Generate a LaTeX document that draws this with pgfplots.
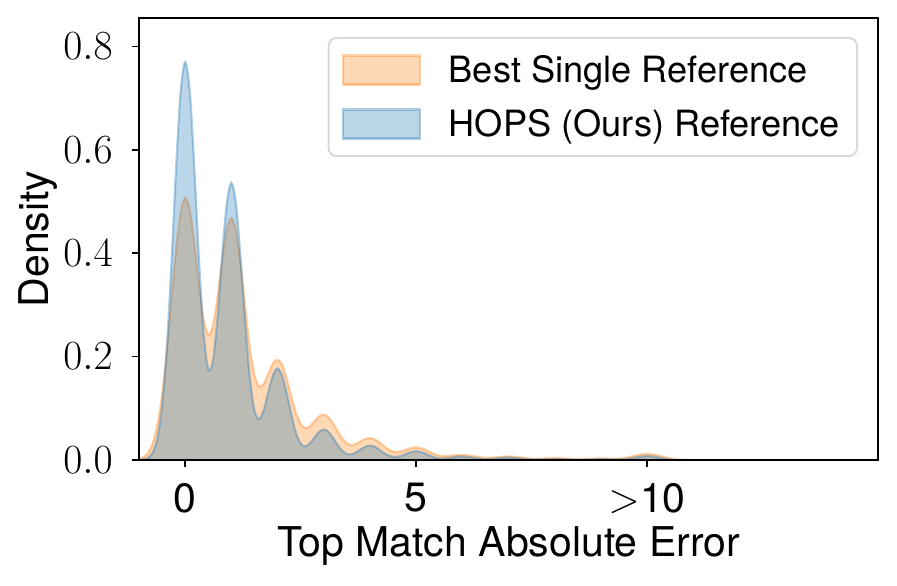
\documentclass[border=0pt]{standalone}
\usepackage{fontspec}
\setmainfont{TeX Gyre Heros}
\usepackage{pgfplots}
\pgfplotsset{compat=1.18}
\usepackage{pgfplotstable}
\usetikzlibrary{calc}
\definecolor{taborange}{HTML}{FF7F0E}
\definecolor{tabblue}{HTML}{1F77B4}

% density estimates
\pgfplotstableread{
x y
-1.0 0.0020
-0.9 0.0056
-0.8 0.0144
-0.7 0.0332
-0.6 0.0682
-0.5 0.126
-0.4 0.208
-0.3 0.307
-0.2 0.405
-0.1 0.478
0.0 0.507
0.1 0.483
0.2 0.418
0.3 0.338
0.4 0.271
0.5 0.242
0.6 0.259
0.7 0.315
0.8 0.387
0.9 0.446
1.0 0.468
1.1 0.442
1.2 0.378
1.3 0.295
1.4 0.217
1.5 0.164
1.6 0.142
1.7 0.147
1.8 0.167
1.9 0.187
2.0 0.194
2.1 0.184
2.2 0.156
2.3 0.122
2.4 0.0906
2.5 0.0695
2.6 0.0617
2.7 0.0654
2.8 0.0752
2.9 0.0844
3.0 0.0879
3.1 0.0828
3.2 0.0709
3.3 0.0556
3.4 0.0415
3.5 0.0322
3.6 0.0290
3.7 0.0312
3.8 0.0361
3.9 0.0407
4.0 0.0424
4.1 0.0400
4.2 0.0343
4.3 0.0271
4.4 0.0205
4.5 0.0165
4.6 0.0156
4.7 0.0174
4.8 0.0204
4.9 0.0232
5.0 0.0242
5.1 0.0228
5.2 0.0195
5.3 0.0153
5.4 0.0113
5.5 0.0085
5.6 0.0073
5.7 0.0077
5.8 0.0087
5.9 0.0095
6.0 0.0100
6.25 0.0074
6.5 0.0042
6.75 0.0054
7.0 0.0070
7.25 0.0051
7.5 0.0027
7.75 0.0031
8.0 0.0040
8.25 0.0029
8.5 0.0017
8.75 0.0023
9.0 0.0030
9.25 0.0026
9.5 0.0037
9.75 0.0086
10.0 0.0120
10.25 0.0085
10.5 0.0030
10.75 0.0005
11.0 0.0000
}\bestsingle

\pgfplotstableread{
x y
-1.0 0.0002
-0.9 0.0012
-0.8 0.0046
-0.7 0.0152
-0.6 0.0431
-0.5 0.104
-0.4 0.214
-0.3 0.375
-0.2 0.559
-0.1 0.711
0.0 0.770
0.1 0.712
0.2 0.562
0.3 0.386
0.4 0.244
0.5 0.176
0.6 0.192
0.7 0.276
0.8 0.394
0.9 0.496
1.0 0.536
1.1 0.495
1.2 0.390
1.3 0.265
1.4 0.159
1.5 0.0963
1.6 0.0792
1.7 0.0968
1.8 0.132
1.9 0.164
2.0 0.177
2.1 0.163
2.2 0.129
2.3 0.0874
2.4 0.0525
2.5 0.0319
2.6 0.0263
2.7 0.0322
2.8 0.0439
2.9 0.0548
3.0 0.0590
3.1 0.0545
3.2 0.0430
3.3 0.0293
3.4 0.0180
3.5 0.0118
3.6 0.0111
3.7 0.0148
3.8 0.0207
3.9 0.0258
4.0 0.0280
4.1 0.0258
4.2 0.0204
4.3 0.0139
4.4 0.0088
4.5 0.0061
4.6 0.0063
4.7 0.0089
4.8 0.0125
4.9 0.0157
5.0 0.0170
5.1 0.0157
5.2 0.0123
5.3 0.0084
5.4 0.0051
5.5 0.0032
5.6 0.0029
5.7 0.0037
5.8 0.0051
5.9 0.0065
6.0 0.0070
6.25 0.0043
6.5 0.0016
6.75 0.0031
7.0 0.0050
7.25 0.0030
7.5 0.0009
7.75 0.0012
8.0 0.0020
8.25 0.0012
8.5 0.0005
8.75 0.0012
9.0 0.0020
9.25 0.0013
9.5 0.0014
9.75 0.0049
10.0 0.0080
10.25 0.0049
10.5 0.0011
10.75 0.0001
11.0 0.0000
}\hops

\pgfplotsset{
  kde/.style={fill=#1, fill opacity=0.3, draw=#1, draw opacity=0.35,
              line width=1.1pt, smooth, mark=none},
}

\begin{document}
\begin{tikzpicture}
\begin{axis}[
  name=ax,
  scale only axis,
  width=369.5pt, height=221pt,
  xmin=-1, xmax=15, ymin=0, ymax=0.855,
  xtick={0,5,10}, xticklabels={0,5,$>$10},
  ytick={0,0.2,0.4,0.6,0.8},
  yticklabel style={/pgf/number format/fixed,/pgf/number format/fixed zerofill,
                    /pgf/number format/precision=1},
  minor tick num=0,
  tick align=outside, major tick length=3.5pt,
  tick style={line width=0.8pt, black},
  axis line style={line width=0.9pt},
  xtick pos=bottom, ytick pos=left,
  ticklabel style={font=\fontsize{20.5}{24}\selectfont},
  xticklabel style={inner sep=0pt, anchor=north, yshift=-8pt},
  yticklabel style={inner sep=0pt, anchor=east, xshift=-9.5pt},
  label style={font=\fontsize{20.5}{24}\selectfont},
  xlabel={Top Match Absolute Error},
  ylabel={Density},
  xlabel style={at={(axis description cs:0.5,-0.2188)}, anchor=base},
  ylabel style={at={(axis description cs:-0.1231,0.5)}, anchor=base},
  axis on top,
  legend cell align=left,
  legend image code/.code={\draw[#1, sharp corners] (0pt,-7.25pt) rectangle (38.5pt,7.25pt);},
  legend style={at={(1,1)}, anchor=north east, xshift=-10pt, yshift=-9.5pt,
                draw=black!15, line width=1pt, rounded corners=4pt, fill=white,
                font=\fontsize{18.1}{21}\selectfont,
                nodes={inner sep=2pt}, inner xsep=6.5pt, inner ysep=6.5pt,
                row sep=8pt, column sep=12pt},
]
\addplot[kde=taborange] table {\bestsingle} \closedcycle;
\addlegendentry{Best Single Reference}
\addplot[kde=tabblue] table {\hops} \closedcycle;
\addlegendentry{HOPS (Ours) Reference}
\end{axis}
\path ($(ax.south west)+(-69.5pt,-62.5pt)$) rectangle ($(ax.north east)+(9.5pt,9pt)$);
\end{tikzpicture}
\end{document}
